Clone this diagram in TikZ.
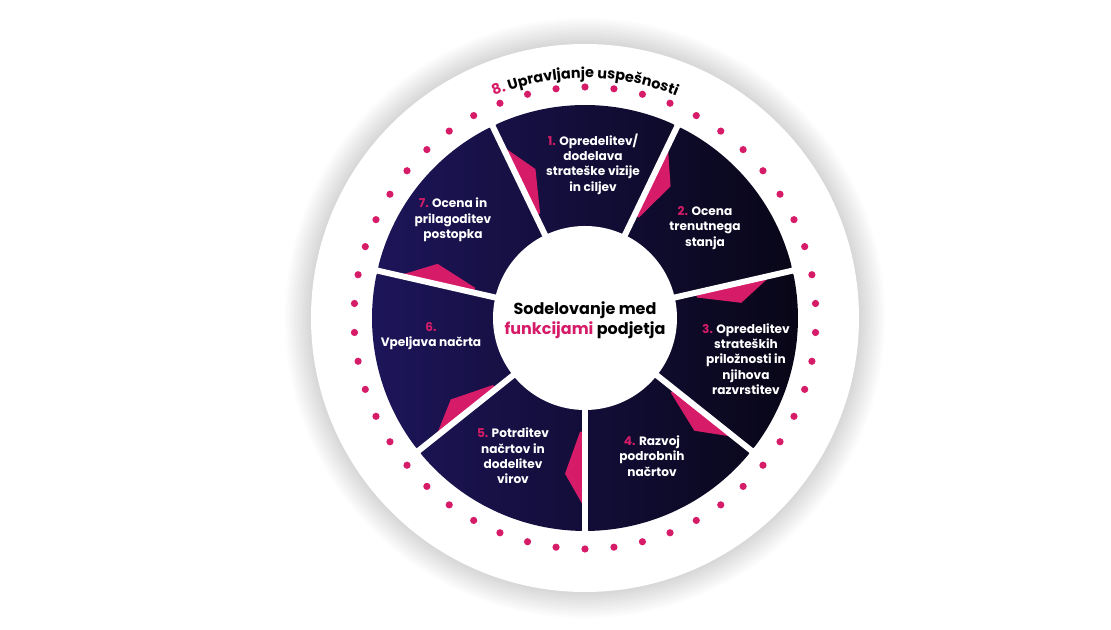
\documentclass[tikz,border=0pt]{standalone}
\usepackage{fontspec}
\setmainfont{Poppins}
\usetikzlibrary{decorations.text}

\definecolor{accent}{RGB}{214,28,104}
\definecolor{segleft}{RGB}{29,21,90}
\definecolor{segright}{RGB}{8,6,22}

\newcommand{\segfont}{\bfseries\fontsize{9.1}{11.5}\selectfont}
\newcommand{\hubfont}{\bfseries\fontsize{12}{15}\selectfont}
\newcommand{\titlefont}{\bfseries\fontsize{10.8}{12}\selectfont}
\newcommand{\num}[1]{{\color{accent}#1}}

\tikzset{
	segtext/.style={text=white, font=\segfont, align=center},
	pinkmark/.style={fill=accent},
	gapline/.style={white, line width=4.5pt},
	dotmark/.style={fill=accent},
}

\begin{document}
\begin{tikzpicture}[x=0.75pt, y=0.75pt]

		\useasboundingbox (-585,-312) rectangle (526,318);
		\fill[white] (-585,-312) rectangle (526,318);

		% soft shadow and outer disc
		\foreach \k in {1,...,14}
			\fill[black, opacity=0.011] (0,0) circle ({272+2*\k});
		\fill[white] (0,0) circle (274);

		% ring of segments
		\begin{scope}
			\clip foreach \a in {90,38.571,-12.857,-64.286,-115.714,-167.143,-218.571} {
				(\a-25.714:80) -- (\a-25.714:205) .. controls (\a-25.714:213) .. (\a-23.5:213)
				arc[start angle=\a-23.5, end angle=\a+23.5, radius=213]
				.. controls (\a+25.714:213) .. (\a+25.714:205) -- (\a+25.714:80) -- cycle
			};
			\shade[left color=segleft, right color=segright] (-215,-215) rectangle (215,215);
			\foreach \a in {90,38.571,-12.857,-64.286,-115.714,-167.143,-218.571}
				\fill[pinkmark] (\a+26.4:195) -- (\a+18.4:157) -- (\a+23.2:114) -- (\a+26.4:113) -- cycle;
		\end{scope}

		\foreach \a in {115.714,64.286,12.857,-38.571,-90,-141.429,-192.857}
			\draw[gapline] (\a:80) -- (\a:218);

		\fill[white] (0,0) circle (92);

		% dots
		\foreach \i in {0,...,49}
			\fill[dotmark] ({3.6+7.2*\i}:231) circle (3.6);

		% title on the arc
		\path[decorate, decoration={text along path, text align=center,
			text={|\titlefont\color{accent}|8. |\titlefont\color{black}|Upravljanje uspešnosti}}]
			(131:240) arc[start angle=131, end angle=49, radius=240];

		\node[font=\hubfont, align=center] (hub) at (0,-2) {Sodelovanje med\\\num{funkcijami} podjetja};

		\node[segtext] (seg1) at (8,154) {\num{1.} Opredelitev/\\dodelava\\strateške vizije\\in ciljev};
		\node[segtext] (seg2) at (120,90) {\num{2.} Ocena\\trenutnega\\stanja};
		\node[segtext] (seg3) at (161,-41) {\num{3.} Opredelitev\\strateških\\priložnosti in\\njihova\\razvrstitev};
		\node[segtext] (seg4) at (67,-138) {\num{4.} Razvoj\\podrobnih\\načrtov};
		\node[segtext] (seg5) at (-72,-138) {\num{5.} Potrditev\\načrtov in\\dodelitev\\virov};
		\node[segtext] (seg6) at (-154,-18) {\num{6.}\\Vpeljava načrta};
		\node[segtext] (seg7) at (-132,98) {\num{7.} Ocena in\\prilagoditev\\postopka};

	\end{tikzpicture}
\end{document}
